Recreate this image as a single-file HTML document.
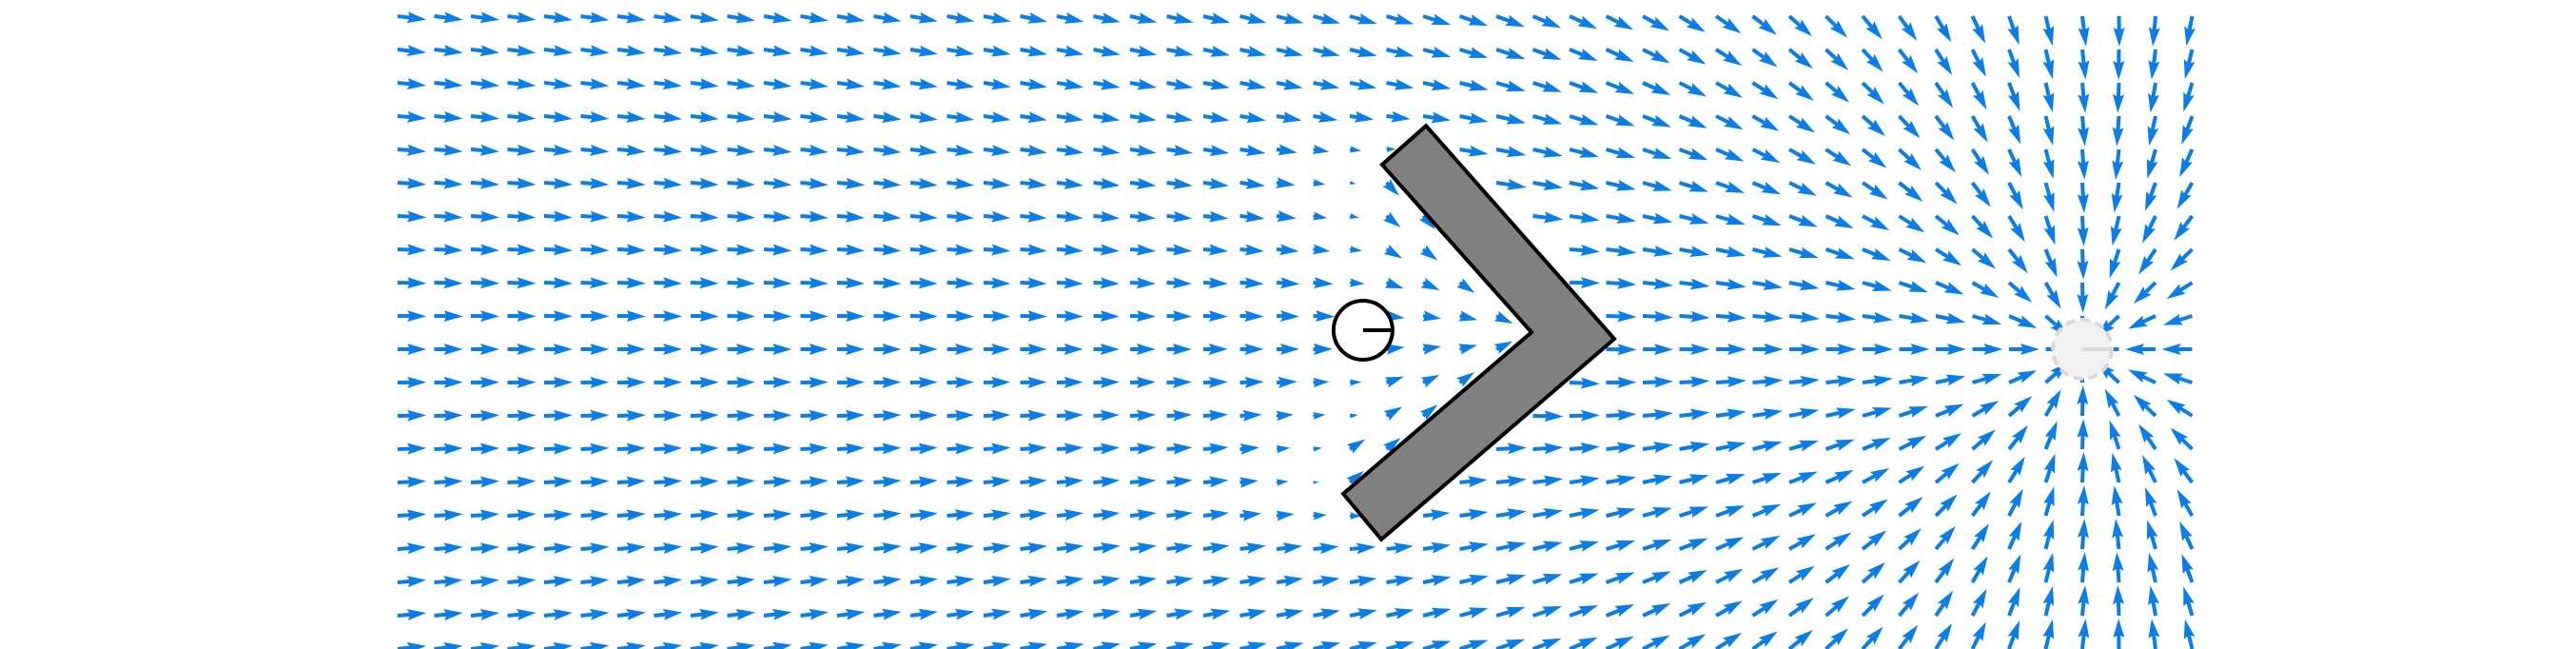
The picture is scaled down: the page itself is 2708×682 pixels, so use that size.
<!DOCTYPE html>
<html><head><meta charset="utf-8"><title>Flow field</title>
<style>html,body{margin:0;padding:0;background:#fff;}svg{display:block;}</style></head>
<body>
<svg id="chart" width="2708" height="682" viewBox="0 0 2708 682" xmlns="http://www.w3.org/2000/svg">
<rect x="0" y="0" width="2708" height="682" fill="#ffffff"/>
<g id="arrows"></g>
<g id="objects"></g>
</svg>
<script>
// grid (data units = grid indices)
const gridCols = 50;
const gridRows = 20;
// sink location (data units)
const sinkPos = [46, 10];
const sinkStrength = [3310];
// chevron obstacle vertices (data units)
const chevronX = [28.08, 33.22, 26.86, 25.82, 30.96, 26.88];
const chevronY = [3.29, 9.69, 15.71, 14.34, 9.49, 4.46];
// observer location (data units)
const observerPos = [26.36, 9.43];
const sourceStrength = [66];
const tipStrength = [30];

const xScale = d => 418 + 38.5 * d;
const yScale = d => 17 + 35 * d;
const NS = 'http://www.w3.org/2000/svg';
const arrowsG = document.getElementById('arrows');
const objG = document.getElementById('objects');

const P = chevronX.map((x, i) => [xScale(x), yScale(chevronY[i])]);
const S = [xScale(sinkPos[0]), yScale(sinkPos[1])];
const V = P[4]; // inner vertex
const C = [(P[1][0] + P[4][0]) / 2 - 50, (P[1][1] + P[4][1]) / 2];
const T1 = [P[5][0] + 7, P[5][1] + 12];
const T2 = [P[3][0] + 8, P[3][1] - 14];

function segDist(p, a, b) {
  const dx = b[0]-a[0], dy = b[1]-a[1];
  let t = ((p[0]-a[0])*dx + (p[1]-a[1])*dy) / (dx*dx+dy*dy);
  t = Math.max(0, Math.min(1, t));
  return Math.hypot(p[0]-a[0]-t*dx, p[1]-a[1]-t*dy);
}
function polyDist(p) {
  let m = 1e9;
  for (let i = 0; i < P.length; i++) m = Math.min(m, segDist(p, P[i], P[(i+1)%P.length]));
  return m;
}
function inTri(p, a, b, c) {
  const s = (u, v, w) => (u[0]-w[0])*(v[1]-w[1]) - (v[0]-w[0])*(u[1]-w[1]);
  const d1 = s(p,a,b), d2 = s(p,b,c), d3 = s(p,c,a);
  const neg = d1<0||d2<0||d3<0, pos = d1>0||d2>0||d3>0;
  return !(neg && pos);
}
function lineX(a, b, y) { return a[0] + (b[0]-a[0]) * (y-a[1]) / (b[1]-a[1]); }
function src(p, c, q) {
  const dx = p[0]-c[0], dy = p[1]-c[1], r2 = dx*dx + dy*dy;
  return [q*dx/r2, q*dy/r2];
}

const W = 4, HL = 20, HAL = 18, HW = 12, FULL = 32;
function arrowPts(L) {
  let s = 1, l = L;
  if (L < HL) { s = L / HL; l = HL; }
  const pts = [[0,-W/2],[l-HAL,-W/2],[l-HL,-HW/2],[l,0],[l-HL,HW/2],[l-HAL,W/2],[0,W/2]];
  return pts.map(q => (q[0]*s).toFixed(2) + ',' + (q[1]*s).toFixed(2)).join(' ');
}

for (let j = 0; j < gridRows; j++) {
  for (let i = 0; i < gridCols; i++) {
    const p = [xScale(i), yScale(j)];
    const dxs = S[0]-p[0], dys = S[1]-p[1];
    const r2 = dxs*dxs + dys*dys;
    if (r2 < 30*30) continue;
    const s0 = src(p, C, sourceStrength[0]);
    const s1 = src(p, T1, tipStrength[0]);
    const s2 = src(p, T2, tipStrength[0]);
    let vx = 1 + sinkStrength[0]*dxs/r2 + s0[0] + s1[0] + s2[0];
    let vy = sinkStrength[0]*dys/r2 + s0[1] + s1[1] + s2[1];
    let mag = Math.min(1, Math.hypot(1 + s0[0], s0[1]));
    // shadow on the concave/back side
    const xl = p[1] < P[1][1] ? lineX(P[0], P[1], p[1]) : lineX(P[1], P[2], p[1]);
    if (p[0] < xl) {
      let g = Math.max(0.12, Math.min(1, polyDist(p) / 150));
      let out = 0;
      if (p[1] < P[5][1]) out = P[5][1] - p[1];
      if (p[1] > P[3][1]) out = p[1] - P[3][1];
      const k = Math.max(0, 1 - out / 60);
      g = 1 - (1 - g) * k;
      mag *= g;
    }
    if (inTri(p, P[5], P[4], P[3])) {
      vx = V[0]-p[0]; vy = V[1]-p[1];
      mag = 0.6;
    }
    const L = FULL * Math.max(mag, 0.12);
    const ang = Math.atan2(vy, vx) * 180 / Math.PI;
    const a = document.createElementNS(NS, 'polygon');
    a.setAttribute('points', arrowPts(L));
    a.setAttribute('transform', `translate(${p[0].toFixed(1)},${p[1].toFixed(1)}) rotate(${ang.toFixed(2)})`);
    a.setAttribute('fill', '#0a7de6');
    
    
    arrowsG.appendChild(a);
  }
}

// sink marker
const sc = document.createElementNS(NS, 'circle');
sc.setAttribute('cx', S[0]); sc.setAttribute('cy', S[1]); sc.setAttribute('r', 31);
sc.setAttribute('fill', '#f2f2f2'); sc.setAttribute('stroke', '#d9d9d9');
sc.setAttribute('stroke-width', 4); sc.setAttribute('stroke-dasharray', '10 6');


objG.appendChild(sc);
const sl = document.createElementNS(NS, 'line');
sl.setAttribute('x1', S[0]); sl.setAttribute('y1', S[1]); sl.setAttribute('x2', S[0] + 31); sl.setAttribute('y2', S[1]);
sl.setAttribute('stroke', '#d9d9d9'); sl.setAttribute('stroke-width', 4);


objG.appendChild(sl);

// chevron
const ch = document.createElementNS(NS, 'polygon');
ch.setAttribute('points', P.map(q => q[0].toFixed(1) + ',' + q[1].toFixed(1)).join(' '));
ch.setAttribute('fill', '#808080'); ch.setAttribute('stroke', '#000'); ch.setAttribute('stroke-width', 4);
ch.setAttribute('stroke-linejoin', 'miter');


objG.appendChild(ch);

// observer
const ox = xScale(observerPos[0]), oy = yScale(observerPos[1]);
const oc = document.createElementNS(NS, 'circle');
oc.setAttribute('cx', ox); oc.setAttribute('cy', oy); oc.setAttribute('r', 31);
oc.setAttribute('fill', '#ffffff'); oc.setAttribute('stroke', '#000'); oc.setAttribute('stroke-width', 4);


objG.appendChild(oc);
const ol = document.createElementNS(NS, 'line');
ol.setAttribute('x1', ox); ol.setAttribute('y1', oy); ol.setAttribute('x2', ox + 31); ol.setAttribute('y2', oy);
ol.setAttribute('stroke', '#000'); ol.setAttribute('stroke-width', 4);


objG.appendChild(ol);
</script>
</body></html>
